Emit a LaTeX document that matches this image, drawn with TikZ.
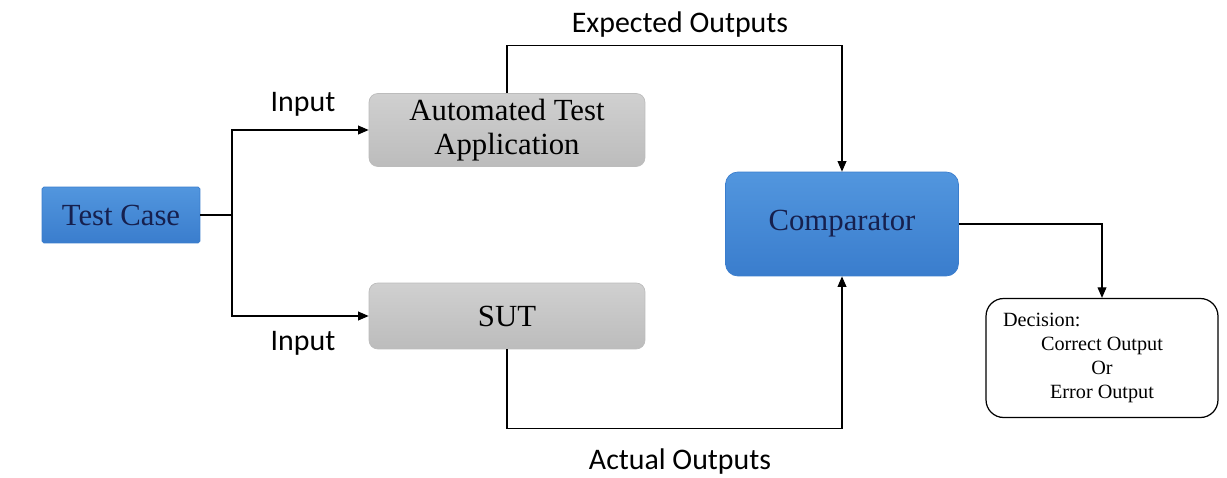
\documentclass[tikz,border=0pt]{standalone}
\usepackage{fontspec}
\setmainfont{Liberation Serif}
\newfontfamily\labelfont{Carlito}
\usetikzlibrary{arrows.meta}
\definecolor{boxblue}{RGB}{82,150,222}
\definecolor{boxbluedark}{RGB}{58,125,205}
\definecolor{boxgrey}{RGB}{208,208,208}
\definecolor{boxgreydark}{RGB}{188,188,188}
\definecolor{navytext}{RGB}{22,32,78}
\tikzset{
  bluebox/.style={top color=boxblue, bottom color=boxbluedark, draw=boxbluedark,
    text=navytext, font=\fontsize{17.5}{21}\selectfont, align=center},
  greybox/.style={top color=boxgrey, bottom color=boxgreydark, draw=boxgreydark,
    rounded corners=5pt, font=\fontsize{17.5}{21}\selectfont, align=center,
    minimum width=5.52cm, minimum height=1.32cm},
  decbox/.style={draw, line width=0.7pt, rounded corners=10pt,
    font=\fontsize{11.5}{13.8}\selectfont, align=center},
  flowlabel/.style={font=\labelfont\fontsize{17}{20}\selectfont},
  conn/.style={line width=0.7pt, -{Triangle[length=6pt,width=5pt]}},
  plain/.style={line width=0.7pt}
}
\begin{document}
\begin{tikzpicture}[x=0.02cm,y=-0.02cm]
    \useasboundingbox (0,0) rectangle (1227,477);% keep the page size
    % boxes
    \node[bluebox, rounded corners=1pt, minimum width=3.16cm, minimum height=1.12cm] (tc) at (121,215) {Test Case};
    \node[greybox] (ata) at (507,130) {Automated Test\\[-2pt]Application};
    \node[greybox] (sut) at (507,316) {SUT};
    \node[bluebox, rounded corners=7pt, minimum width=4.66cm, minimum height=2.08cm] (cmp) at (842,224) {Comparator};
    \node[decbox, minimum width=4.64cm, minimum height=2.38cm] (dec) at (1102,358)
        {\makebox[3.96cm][l]{Decision:}\\Correct Output\\Or\\Error Output};
    % inputs
    \coordinate (split) at (232,215);
    \draw[plain] (tc.east) -- (split);
    \draw[conn] (split) |- (ata.west);
    \draw[conn] (split) |- (sut.west);
    \node[flowlabel] (inup) at (303,104) {Input};
    \node[flowlabel] (indown) at (303,343) {Input};
    % outputs to the comparator
    \draw[conn] (ata.north) -- ++(0,-48) -| (cmp.north);
    \draw[conn] (sut.south) -- ++(0,79) -| (cmp.south);
    \node[flowlabel] (explabel) at (680,25) {Expected Outputs};
    \node[flowlabel] (actlabel) at (680,462) {Actual Outputs};
    % decision
    \draw[conn] (cmp.east) -| (dec.north);
\end{tikzpicture}
\end{document}
